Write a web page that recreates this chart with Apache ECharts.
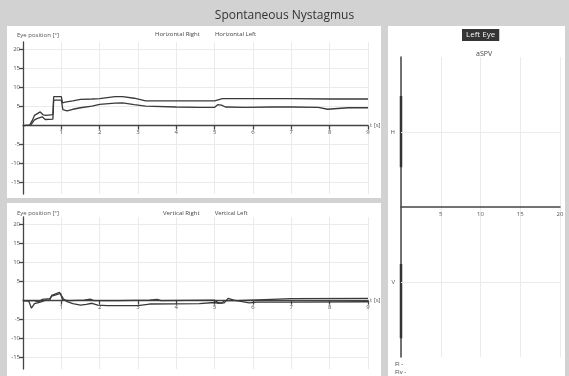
<!DOCTYPE html>
<html>
<head>
<meta charset="utf-8">
<script src="https://cdn.jsdelivr.net/npm/echarts@6/dist/echarts.min.js"></script>
<style>
  html, body { margin: 0; padding: 0; background: #d2d2d2; }
  #wrap { position: relative; width: 569px; height: 376px; overflow: hidden; background: #d2d2d2; }
  .panel { position: absolute; background: #ffffff; }
  #chart { position: absolute; left: 0; top: 0; width: 569px; height: 376px; }
</style>
</head>
<body>
<div id="wrap">
  <div class="panel" style="left:7px;top:26px;width:374px;height:172px"></div>
  <div class="panel" style="left:7px;top:203px;width:374px;height:173px"></div>
  <div class="panel" style="left:388px;top:26px;width:177px;height:350px"></div>
  <div id="chart"></div>
</div>
<script>
// Eye position traces, [time s, degrees]
const horizontalRight = [
  [0, 0], [0.17, 0.1], [0.25, 1.5], [0.3, 2.7], [0.45, 3.6], [0.5, 3.9], [0.53, 2.8],
  [0.6, 2.7], [0.78, 2.9], [0.8, 7.6], [1.0, 7.6], [1.03, 6.0], [1.1, 6.2], [1.3, 6.5],
  [1.5, 6.9], [1.8, 7.0], [2.0, 7.1], [2.05, 7.4], [2.4, 7.6], [2.6, 7.6], [2.9, 7.2],
  [3.2, 6.5], [4.0, 6.5], [4.6, 6.5], [5.0, 6.5], [5.2, 7.1], [6.0, 7.1], [7.0, 7.1],
  [8.0, 7.0], [9.0, 7.0]
];
const horizontalLeft = [
  [0, 0], [0.2, 0.1], [0.3, 1.5], [0.38, 1.9], [0.5, 2.3], [0.55, 2.1], [0.58, 1.6],
  [0.78, 1.7], [0.8, 6.7], [1.0, 6.7], [1.04, 4.2], [1.15, 3.9], [1.3, 4.3], [1.5, 4.7],
  [1.8, 5.1], [2.0, 5.6], [2.4, 5.9], [2.6, 6.0], [2.9, 5.5], [3.2, 5.1], [4.0, 4.9],
  [4.6, 4.8], [5.0, 4.8], [5.08, 5.5], [5.18, 5.4], [5.28, 4.9], [5.8, 4.8], [6.5, 4.9],
  [7.0, 4.9], [7.7, 4.8], [7.95, 4.3], [8.2, 4.5], [8.5, 4.7], [9.0, 4.7]
];
const verticalRight = [
  [0, 0], [0.3, 0.0], [0.4, -0.4], [0.5, 0.3], [0.7, 0.5], [0.75, 1.2], [0.8, 1.6],
  [0.98, 1.9], [1.03, 0.2], [1.2, 0.0], [1.6, 0.1], [1.75, 0.4], [1.85, 0.0], [2.5, 0.0],
  [3.3, 0.1], [3.5, 0.3], [3.6, 0.0], [5.0, 0.1], [5.1, -0.6], [5.2, -0.6], [5.25, 0.0],
  [5.6, 0.0], [7.0, 0.5], [9.0, 0.6]
];
const verticalLeft = [
  [0, 0], [0.15, -0.1], [0.22, -2.0], [0.3, -0.8], [0.38, -0.6], [0.45, -0.4], [0.6, 0.1],
  [0.7, 0.2], [0.75, 1.4], [0.95, 2.2], [1.0, 2.4], [1.05, 0.5], [1.15, -0.3], [1.3, -0.8],
  [1.5, -1.2], [1.65, -1.0], [1.8, -0.7], [1.95, -1.2], [2.2, -1.3], [3.0, -1.3], [3.3, -0.9],
  [4.6, -0.8], [5.0, -0.5], [5.1, -0.7], [5.25, -0.6], [5.35, 0.6], [5.5, 0.1], [5.9, -0.6],
  [6.1, -0.4], [7.0, -0.4], [9.0, -0.3]
];
// aSPV side panel: dark bands on the left axis (H above, V below)
const aspvH = [[0, 1.48], [0, 0.53]];
const aspvV = [[0, -0.76], [0, -1.75]];
const posTicks = [-15, -10, -5, 5, 10, 15, 20];
const timeTicks = [1, 2, 3, 4, 5, 6, 7, 8, 9];
const aspvTicks = [5, 10, 15, 20];

const FONT = 'Open Sans';
const ink = '#3a3a3a';
// position panels: 152 px tall for -18..22 deg, so zero sits 18 * 3.8 px above the bottom
const POS_ZERO_OFFSET = -18 * 152 / 40;

function posXAxis(gi) {
  return {
    gridIndex: gi, type: 'value', min: 0, max: 9, position: 'bottom', offset: POS_ZERO_OFFSET,
    axisLine: { onZero: false, lineStyle: { color: '#444', width: 1.3 } },
    axisTick: { customValues: timeTicks, length: 4, lineStyle: { color: '#444', width: 1.3 } },
    axisLabel: { customValues: timeTicks, fontSize: 6, color: '#555', margin: 4, fontFamily: FONT },
    splitLine: { show: true, lineStyle: { color: '#ebebeb', width: 1 } },
    name: 't [s]', nameLocation: 'end', nameGap: 2,
    nameTextStyle: { fontSize: 6, color: '#555', fontFamily: FONT }
  };
}
function posYAxis(gi) {
  return {
    gridIndex: gi, type: 'value', min: -18, max: 22,
    axisLine: { show: true, lineStyle: { color: '#444', width: 1.3 } },
    axisTick: { show: true, customValues: posTicks, length: 4, lineStyle: { color: '#444', width: 1.3 } },
    axisLabel: { customValues: posTicks, fontSize: 6, color: '#555', margin: 3, fontFamily: FONT },
    splitLine: { show: true, lineStyle: { color: '#ebebeb', width: 1 } }
  };
}
function trace(name, data, gi) {
  return {
    name: name, type: 'line', data: data, xAxisIndex: gi, yAxisIndex: gi,
    showSymbol: false, symbol: 'none', animation: false,
    lineStyle: { color: ink, width: 1.3 }, itemStyle: { color: ink }
  };
}

const chart = echarts.init(document.getElementById('chart'), null, { renderer: 'canvas' });
chart.setOption({
  backgroundColor: 'transparent',
  animation: false,
  textStyle: { fontFamily: FONT },
  title: [
    { text: 'Spontaneous Nystagmus', left: 'center', top: 5,
      textStyle: { fontSize: 12, fontWeight: 'normal', color: '#333', fontFamily: FONT } },
    { text: 'Eye position [°]', left: 12, top: 27,
      textStyle: { fontSize: 6, fontWeight: 'normal', color: '#555', fontFamily: FONT } },
    { text: 'Eye position [°]', left: 12, top: 205,
      textStyle: { fontSize: 6, fontWeight: 'normal', color: '#555', fontFamily: FONT } },
    { text: 'Left Eye', left: 462, top: 29, backgroundColor: '#353535', padding: [2, 4],
      textStyle: { fontSize: 8, fontWeight: 'normal', color: '#f2f2f2', fontFamily: FONT } },
    { text: 'aSPV', left: 471, top: 45,
      textStyle: { fontSize: 7, fontWeight: 'normal', color: '#444', fontFamily: FONT } },
    { text: 'FI -', left: 390, top: 356,
      textStyle: { fontSize: 6, fontWeight: 'normal', color: '#444', fontFamily: FONT } },
    { text: 'FIv -', left: 390, top: 364,
      textStyle: { fontSize: 6, fontWeight: 'normal', color: '#444', fontFamily: FONT } }
  ],
  legend: [
    { data: ['Horizontal Right', 'Horizontal Left'], left: 150, top: 31, icon: 'rect',
      itemWidth: 0, itemHeight: 0, itemGap: 10, padding: 0,
      textStyle: { fontSize: 6, color: '#444', fontFamily: FONT } },
    { data: ['Vertical Right', 'Vertical Left'], left: 158, top: 210, icon: 'rect',
      itemWidth: 0, itemHeight: 0, itemGap: 10, padding: 0,
      textStyle: { fontSize: 6, color: '#444', fontFamily: FONT } }
  ],
  grid: [
    { left: 23, top: 42, width: 345, height: 152 },
    { left: 23, top: 217, width: 345, height: 152 },
    { left: 401, top: 57, width: 159, height: 300 }
  ],
  xAxis: [
    posXAxis(0),
    posXAxis(1),
    {
      gridIndex: 2, type: 'value', min: 0, max: 20, interval: 5, position: 'bottom', offset: -150,
      axisLine: { onZero: false, lineStyle: { color: '#444', width: 1.5 } },
      axisTick: { show: false },
      axisLabel: { customValues: aspvTicks, fontSize: 6, color: '#555', margin: 4, fontFamily: FONT },
      splitLine: { show: true, lineStyle: { color: '#ebebeb', width: 1 } }
    }
  ],
  yAxis: [
    posYAxis(0),
    posYAxis(1),
    {
      gridIndex: 2, type: 'value', min: -2, max: 2, interval: 1,
      axisLine: { show: true, onZero: false, lineStyle: { color: '#444', width: 1.5 } },
      axisTick: { show: false },
      axisLabel: {
        fontSize: 6, color: '#555', margin: 6, fontFamily: FONT,
        formatter: function (v) { return v === 1 ? 'H' : (v === -1 ? 'V' : ''); }
      },
      splitLine: { show: false }
    }
  ],
  series: [
    trace('Horizontal Right', horizontalRight, 0),
    trace('Horizontal Left', horizontalLeft, 0),
    trace('Vertical Right', verticalRight, 1),
    trace('Vertical Left', verticalLeft, 1),
    {
      name: 'aSPV H', type: 'line', data: aspvH, xAxisIndex: 2, yAxisIndex: 2,
      showSymbol: false, symbol: 'none', clip: false,
      lineStyle: { color: '#333', width: 2.5 },
      markLine: {
        silent: true, symbol: 'none', label: { show: false },
        lineStyle: { color: '#ebebeb', width: 1, type: 'solid' },
        data: [{ yAxis: 1 }, { yAxis: -1 }]
      }
    },
    {
      name: 'aSPV V', type: 'line', data: aspvV, xAxisIndex: 2, yAxisIndex: 2,
      showSymbol: false, symbol: 'none', clip: false,
      lineStyle: { color: '#333', width: 2.5 }
    }
  ]
});
</script>
</body>
</html>
